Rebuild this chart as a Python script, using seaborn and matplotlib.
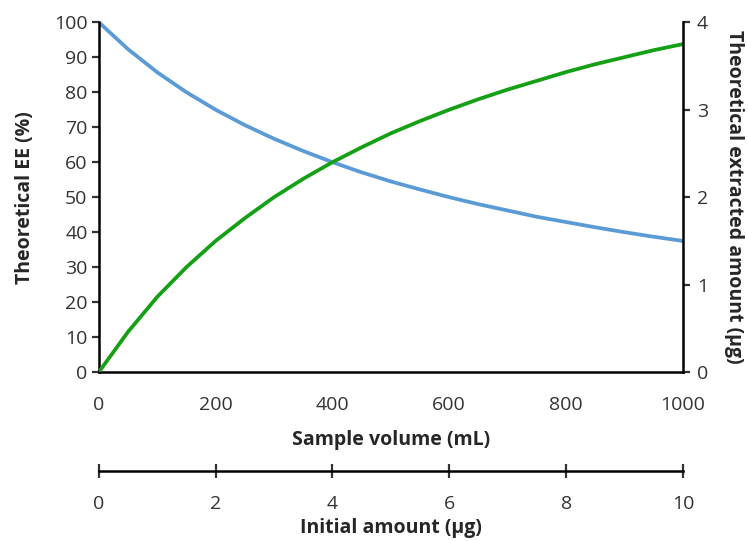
import matplotlib
matplotlib.use("Agg")
import matplotlib.pyplot as plt
import seaborn as sns
import pandas as pd

# valores
volume_ml = [0, 50, 100, 150, 200, 250, 300, 350, 400, 450, 500,
             550, 600, 650, 700, 750, 800, 850, 900, 950, 1000]
ee_pct = [100, 92.3, 85.7, 80.0, 75.0, 70.6, 66.7, 63.2, 60.0, 57.1, 54.5,
          52.2, 50.0, 48.0, 46.2, 44.4, 42.9, 41.4, 40.0, 38.7, 37.5]
extracted_ug = [0, 0.46, 0.86, 1.20, 1.50, 1.76, 2.00, 2.21, 2.40, 2.57, 2.73,
                2.87, 3.00, 3.12, 3.23, 3.33, 3.43, 3.52, 3.60, 3.68, 3.75]

df = pd.DataFrame({"volume": volume_ml, "ee": ee_pct, "amount": extracted_ug})

sns.set_style("white")
plt.rcParams['font.family'] = ['Open Sans', 'DejaVu Sans']

blue = '#5b9bd5'
green = '#14a014'
fs = 14
lfs = 14

fig = plt.figure(figsize=(7.48, 5.41), dpi=100)
ax = fig.add_axes([0.132, 0.312, 0.781, 0.647])

sns.lineplot(data=df, x="volume", y="ee", ax=ax, color=blue, linewidth=2.7)
ax2 = ax.twinx()
sns.lineplot(data=df, x="volume", y="amount", ax=ax2, color=green, linewidth=2.7)

ax.set_xlim(0, 1000)
ax.set_ylim(0, 100)
ax2.set_ylim(0, 4)
ax.set_xticks(range(0, 1001, 200))
ax.set_yticks(range(0, 101, 10))
ax2.set_yticks(range(0, 5))

for a in (ax, ax2):
    for s in a.spines.values():
        s.set_visible(False)
    a.tick_params(width=1.6, length=5, direction='out', labelsize=fs, colors='#333333')
ax.spines['left'].set_visible(True)
ax.spines['bottom'].set_visible(True)
ax2.spines['right'].set_visible(True)
for s in (ax.spines['left'], ax.spines['bottom'], ax2.spines['right']):
    s.set_linewidth(1.8)
    s.set_color('black')
ax.tick_params(axis='x', pad=12)
ax.tick_params(axis='y', pad=3)
ax2.tick_params(axis='y', pad=5)

ax.set_xlabel("Sample volume (mL)", fontsize=lfs, fontweight='bold', labelpad=12)
ax.set_ylabel("Theoretical EE (%)", fontsize=lfs, fontweight='bold', labelpad=14)
ax2.set_ylabel("Theoretical extracted amount (µg)", fontsize=lfs, fontweight='bold',
               rotation=270, labelpad=26)

# eje secundario: cantidad inicial
sec = ax.secondary_xaxis(-0.283, functions=(lambda v: v / 100, lambda v: v * 100))
sec.set_xticks(range(0, 11, 2))
sec.spines['bottom'].set_linewidth(1.8)
sec.spines['bottom'].set_color('black')
sec.tick_params(width=1.6, length=10, direction='inout', labelsize=fs, pad=12, colors='#333333')
sec.set_xlabel("Initial amount (µg)", fontsize=lfs, fontweight='bold', labelpad=4)

fig.savefig("out.png", dpi=100)
